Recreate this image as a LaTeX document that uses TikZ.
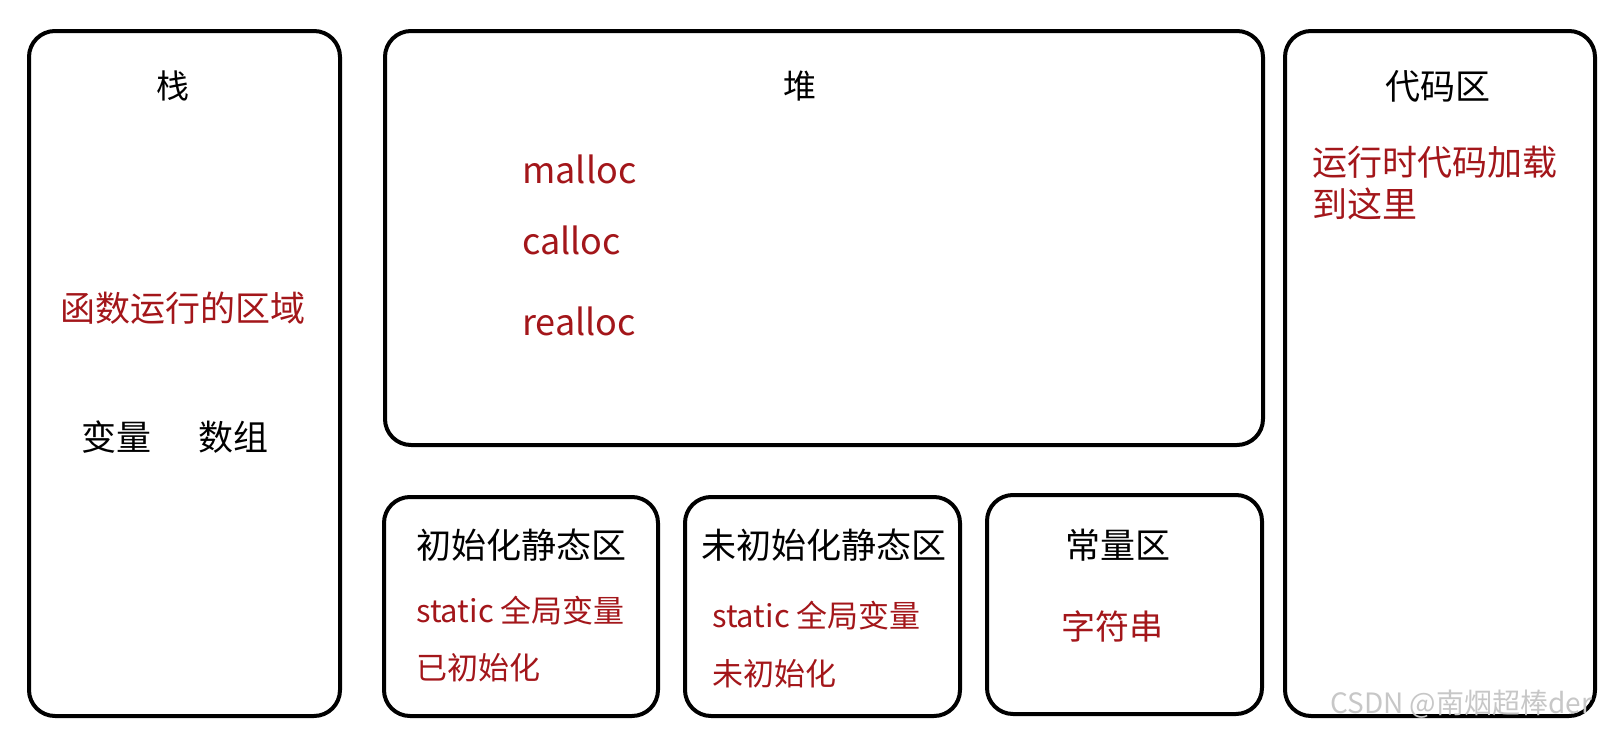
\documentclass[tikz,border=0pt]{standalone}
\usepackage{fontspec}
\setmainfont{Noto Sans CJK SC}
\usepackage{tikz}
\usepackage{xcolor}
\usetikzlibrary{positioning}

\definecolor{memred}{HTML}{A3161A}

\begin{document}
\begin{tikzpicture}[x=1pt, y=-1pt,
  region/.style={draw, line width=4pt, rounded corners=26pt, inner sep=0pt},
  title/.style={inner sep=0pt, font=\fontsize{35}{40}\selectfont},
  note/.style={inner sep=0pt, text=memred, font=\fontsize{35}{40}\selectfont},
  small note/.style={note, anchor=west, font=\fontsize{31}{36}\selectfont},
  fname/.style={note, anchor=west, font=\fontsize{36}{42}\selectfont}]

\useasboundingbox (0,0) rectangle (1623,731);

% Define memory regions
\node[region, minimum width=311pt, minimum height=685pt] (stack) at (184.5,373.5) {};
\node[region, minimum width=878pt, minimum height=414pt] (heap) at (824,238) {};
\node[region, minimum width=310pt, minimum height=685pt] (code) at (1440,373.5) {};
\node[region, minimum width=274pt, minimum height=219pt] (init) at (521,606.5) {};
\node[region, minimum width=275pt, minimum height=219pt] (uninit) at (822.5,606.5) {};
\node[region, minimum width=275pt, minimum height=219pt] (const) at (1124.5,604.5) {};

% Stack labels
\node[title, font=\fontsize{33}{38}\selectfont] (stacktitle) at (173,86) {栈};
\node[note] (stacknote) at (183,308) {函数运行的区域};
\node[title] (var) at (116,437) {变量};
\node[title] (arr) at (233,437) {数组};

% Heap labels
\node[title, font=\fontsize{33}{38}\selectfont] (heaptitle) at (800,86) {堆};
\node[fname] (malloc) at (522,169) {malloc};
\node[fname] (calloc) at (522,240) {calloc};
\node[fname] (realloc) at (522,321) {realloc};

% Code labels
\node[title] (codetitle) at (1438,86) {代码区};
\node[note, anchor=west] (code1) at (1312,162) {运行时代码加载};
\node[note, anchor=west] (code2) at (1312,204) {到这里};

% Static and constant labels
\node[title] (inittitle) at (521,545) {初始化静态区};
\node[small note] (init1) at (416,611) {static 全局变量};
\node[small note] (init2) at (416,668) {已初始化};

\node[title] (uninittitle) at (824,545) {未初始化静态区};
\node[small note] (uninit1) at (712,616) {static 全局变量};
\node[small note] (uninit2) at (712,674) {未初始化};

\node[title] (consttitle) at (1118,545) {常量区};
\node[small note, font=\fontsize{34}{40}\selectfont] (const1) at (1061,626) {字符串};

% Watermark
\node[inner sep=0pt, anchor=west, text=black!22, font=\fontsize{28}{32}\selectfont] (mark) at (1330,704) {CSDN @南烟超棒der};

\end{tikzpicture}
\end{document}
